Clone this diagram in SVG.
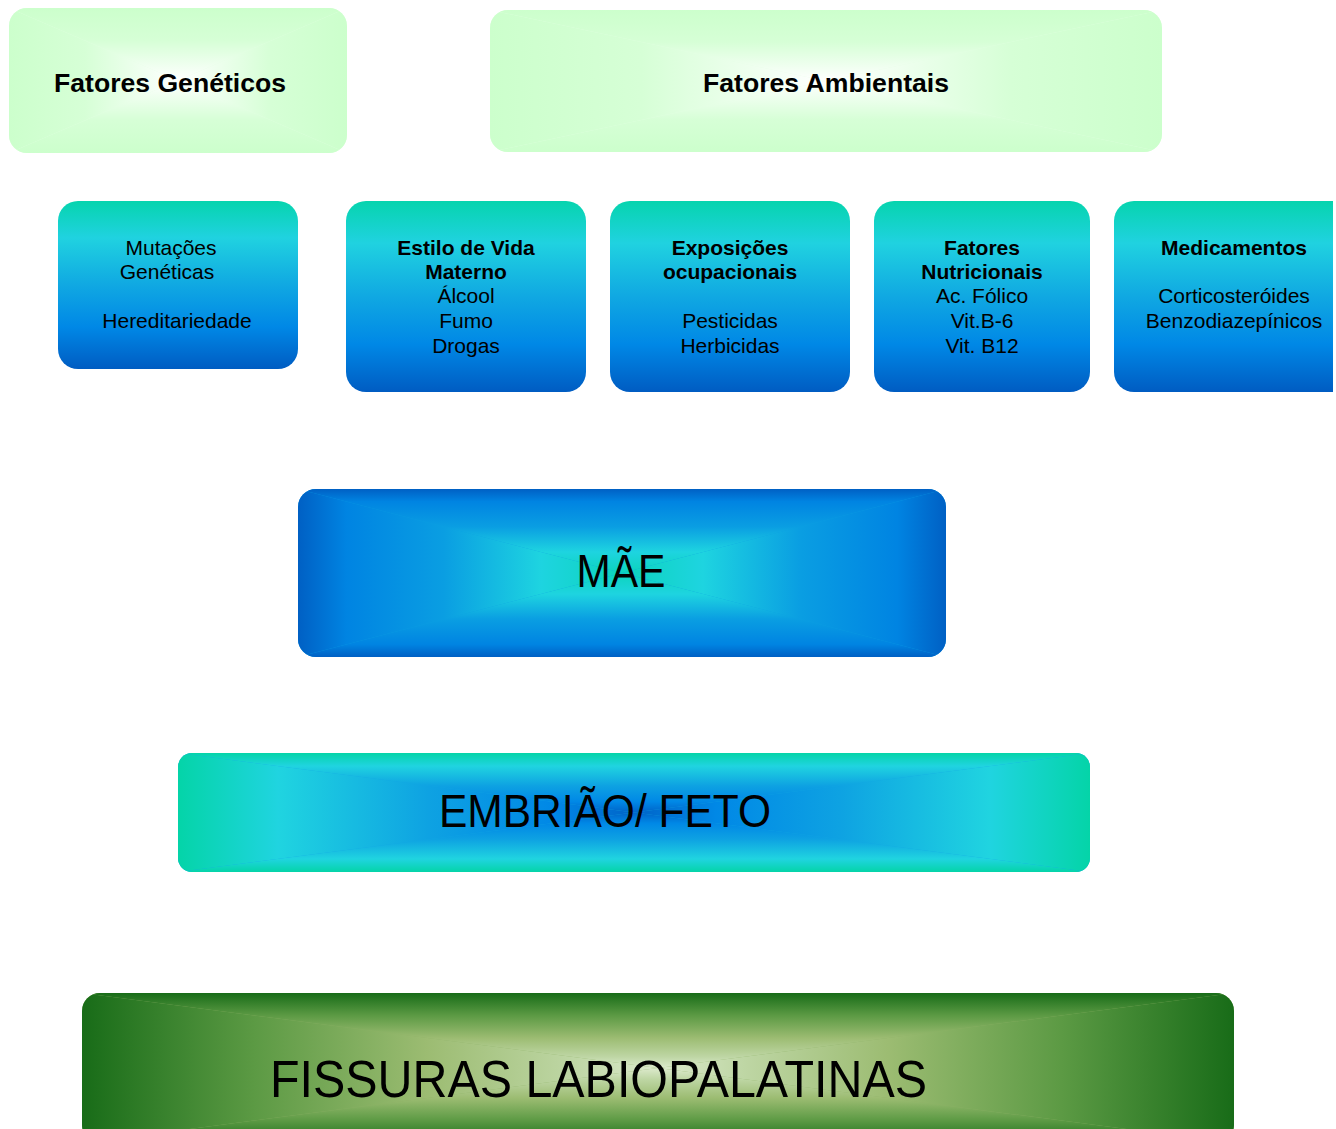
<svg xmlns="http://www.w3.org/2000/svg" width="1336" height="1129" viewBox="0 0 1336 1129">
<style>
.t{font-family:"Liberation Sans",Arial,sans-serif;fill:#000;text-anchor:middle}
.h{font-size:26px;font-weight:bold}
.s{font-size:21px}
.b{font-weight:bold}
.big{font-size:46px}
</style>
<defs>
<!-- light green rectangular gradient -->
<linearGradient id="gT" x1="0" y1="0" x2="0" y2="1"><stop offset="0" stop-color="#ccffcc"/><stop offset="0.45" stop-color="#d6ffd6"/><stop offset="1" stop-color="#ffffff"/></linearGradient>
<linearGradient id="gB" x1="0" y1="1" x2="0" y2="0"><stop offset="0" stop-color="#ccffcc"/><stop offset="0.45" stop-color="#d6ffd6"/><stop offset="1" stop-color="#ffffff"/></linearGradient>
<linearGradient id="gL" x1="0" y1="0" x2="1" y2="0"><stop offset="0" stop-color="#ccffcc"/><stop offset="0.45" stop-color="#d6ffd6"/><stop offset="1" stop-color="#ffffff"/></linearGradient>
<linearGradient id="gR" x1="1" y1="0" x2="0" y2="0"><stop offset="0" stop-color="#ccffcc"/><stop offset="0.45" stop-color="#d6ffd6"/><stop offset="1" stop-color="#ffffff"/></linearGradient>
<!-- MAE blue -->
<linearGradient id="mT" x1="0" y1="0" x2="0" y2="1"><stop offset="0" stop-color="#0060c4"/><stop offset="0.15" stop-color="#0084e2"/><stop offset="0.45" stop-color="#0a9ee2"/><stop offset="0.75" stop-color="#1ed4e0"/><stop offset="1" stop-color="#0cd4bc"/></linearGradient>
<linearGradient id="mB" x1="0" y1="1" x2="0" y2="0"><stop offset="0" stop-color="#0060c4"/><stop offset="0.15" stop-color="#0084e2"/><stop offset="0.45" stop-color="#0a9ee2"/><stop offset="0.75" stop-color="#1ed4e0"/><stop offset="1" stop-color="#0cd4bc"/></linearGradient>
<linearGradient id="mL" x1="0" y1="0" x2="1" y2="0"><stop offset="0" stop-color="#0060c4"/><stop offset="0.15" stop-color="#0084e2"/><stop offset="0.45" stop-color="#0a9ee2"/><stop offset="0.75" stop-color="#1ed4e0"/><stop offset="1" stop-color="#0cd4bc"/></linearGradient>
<linearGradient id="mR" x1="1" y1="0" x2="0" y2="0"><stop offset="0" stop-color="#0060c4"/><stop offset="0.15" stop-color="#0084e2"/><stop offset="0.45" stop-color="#0a9ee2"/><stop offset="0.75" stop-color="#1ed4e0"/><stop offset="1" stop-color="#0cd4bc"/></linearGradient>
<!-- EMBRIAO teal -> blue -->
<linearGradient id="eT" x1="0" y1="0" x2="0" y2="1"><stop offset="0" stop-color="#04d4a8"/><stop offset="0.22" stop-color="#20d4e0"/><stop offset="0.55" stop-color="#0ea2e2"/><stop offset="0.82" stop-color="#0088e6"/><stop offset="1" stop-color="#0064c8"/></linearGradient>
<linearGradient id="eB" x1="0" y1="1" x2="0" y2="0"><stop offset="0" stop-color="#04d4a8"/><stop offset="0.22" stop-color="#20d4e0"/><stop offset="0.55" stop-color="#0ea2e2"/><stop offset="0.82" stop-color="#0088e6"/><stop offset="1" stop-color="#0064c8"/></linearGradient>
<linearGradient id="eL" x1="0" y1="0" x2="1" y2="0"><stop offset="0" stop-color="#04d4a8"/><stop offset="0.22" stop-color="#20d4e0"/><stop offset="0.55" stop-color="#0ea2e2"/><stop offset="0.82" stop-color="#0088e6"/><stop offset="1" stop-color="#0064c8"/></linearGradient>
<linearGradient id="eR" x1="1" y1="0" x2="0" y2="0"><stop offset="0" stop-color="#04d4a8"/><stop offset="0.22" stop-color="#20d4e0"/><stop offset="0.55" stop-color="#0ea2e2"/><stop offset="0.82" stop-color="#0088e6"/><stop offset="1" stop-color="#0064c8"/></linearGradient>
<!-- FISSURAS green -->
<linearGradient id="fT" x1="0" y1="0" x2="0" y2="1"><stop offset="0" stop-color="#186c18"/><stop offset="0.3" stop-color="#5c9a44"/><stop offset="0.6" stop-color="#9cbc72"/><stop offset="0.85" stop-color="#bed6a4"/><stop offset="1" stop-color="#dceacc"/></linearGradient>
<linearGradient id="fB" x1="0" y1="1" x2="0" y2="0"><stop offset="0" stop-color="#186c18"/><stop offset="0.3" stop-color="#5c9a44"/><stop offset="0.6" stop-color="#9cbc72"/><stop offset="0.85" stop-color="#bed6a4"/><stop offset="1" stop-color="#dceacc"/></linearGradient>
<linearGradient id="fL" x1="0" y1="0" x2="1" y2="0"><stop offset="0" stop-color="#186c18"/><stop offset="0.3" stop-color="#5c9a44"/><stop offset="0.6" stop-color="#9cbc72"/><stop offset="0.85" stop-color="#bed6a4"/><stop offset="1" stop-color="#dceacc"/></linearGradient>
<linearGradient id="fR" x1="1" y1="0" x2="0" y2="0"><stop offset="0" stop-color="#186c18"/><stop offset="0.3" stop-color="#5c9a44"/><stop offset="0.6" stop-color="#9cbc72"/><stop offset="0.85" stop-color="#bed6a4"/><stop offset="1" stop-color="#dceacc"/></linearGradient>
<!-- small boxes vertical -->
<linearGradient id="sv" x1="0" y1="0" x2="0" y2="1"><stop offset="0" stop-color="#06d4ae"/><stop offset="0.22" stop-color="#20d2e0"/><stop offset="0.5" stop-color="#10a8e2"/><stop offset="0.75" stop-color="#0088e6"/><stop offset="1" stop-color="#005cc2"/></linearGradient>
<clipPath id="c1"><rect x="9" y="8" width="338" height="145" rx="18"/></clipPath>
<clipPath id="c2"><rect x="490" y="10" width="672" height="142" rx="18"/></clipPath>
<clipPath id="c3"><rect x="298" y="489" width="648" height="168" rx="18"/></clipPath>
<clipPath id="c4"><rect x="178" y="753" width="912" height="119" rx="14"/></clipPath>
<clipPath id="c5"><rect x="82" y="993" width="1152" height="150" rx="18"/></clipPath>
</defs>

<g id="fatores-geneticos">
<g clip-path="url(#c1)">
<rect x="9" y="8" width="338" height="145" fill="#e4ffe4"/>
<polygon points="9,8 347,8 178,80.5" fill="url(#gT)"/>
<polygon points="9,153 347,153 178,80.5" fill="url(#gB)"/>
<polygon points="9,8 9,153 178,80.5" fill="url(#gL)"/>
<polygon points="347,8 347,153 178,80.5" fill="url(#gR)"/>
</g>
<text class="t h" x="170" y="92" textLength="232" lengthAdjust="spacingAndGlyphs">Fatores Genéticos</text>
</g>

<g id="fatores-ambientais">
<g clip-path="url(#c2)">
<rect x="490" y="10" width="672" height="142" fill="#e4ffe4"/>
<polygon points="490,10 1162,10 826,81" fill="url(#gT)"/>
<polygon points="490,152 1162,152 826,81" fill="url(#gB)"/>
<polygon points="490,10 490,152 826,81" fill="url(#gL)"/>
<polygon points="1162,10 1162,152 826,81" fill="url(#gR)"/>
</g>
<text class="t h" x="826" y="92" textLength="246" lengthAdjust="spacingAndGlyphs">Fatores Ambientais</text>
</g>

<g id="mutacoes">
<rect x="58" y="201" width="240" height="168" rx="20" fill="url(#sv)"/>
<text class="t s" x="171" y="255">Mutações</text>
<text class="t s" x="167" y="279">Genéticas</text>
<text class="t s" x="177" y="328">Hereditariedade</text>
</g>

<g id="estilo-vida">
<rect x="346" y="201" width="240" height="191" rx="20" fill="url(#sv)"/>
<text class="t s b" x="466" y="255">Estilo de Vida</text>
<text class="t s b" x="466" y="279">Materno</text>
<text class="t s" x="466" y="303">Álcool</text>
<text class="t s" x="466" y="328">Fumo</text>
<text class="t s" x="466" y="353">Drogas</text>
</g>

<g id="exposicoes">
<rect x="610" y="201" width="240" height="191" rx="20" fill="url(#sv)"/>
<text class="t s b" x="730" y="255">Exposições</text>
<text class="t s b" x="730" y="279">ocupacionais</text>
<text class="t s" x="730" y="328">Pesticidas</text>
<text class="t s" x="730" y="353">Herbicidas</text>
</g>

<g id="nutricionais">
<rect x="874" y="201" width="216" height="191" rx="20" fill="url(#sv)"/>
<text class="t s b" x="982" y="255">Fatores</text>
<text class="t s b" x="982" y="279">Nutricionais</text>
<text class="t s" x="982" y="303">Ac. Fólico</text>
<text class="t s" x="982" y="328">Vit.B-6</text>
<text class="t s" x="982" y="353">Vit. B12</text>
</g>

<g id="medicamentos">
<path d="M1134,201 H1333 V392 H1134 A20,20 0 0 1 1114,372 V221 A20,20 0 0 1 1134,201 Z" fill="url(#sv)"/>
<text class="t s b" x="1234" y="255">Medicamentos</text>
<text class="t s" x="1234" y="303">Corticosteróides</text>
<text class="t s" x="1234" y="328">Benzodiazepínicos</text>
</g>

<g id="mae">
<g clip-path="url(#c3)">
<rect x="298" y="489" width="648" height="168" fill="#0a9ee2"/>
<polygon points="298,489 946,489 622,573" fill="url(#mT)"/>
<polygon points="298,657 946,657 622,573" fill="url(#mB)"/>
<polygon points="298,489 298,657 622,573" fill="url(#mL)"/>
<polygon points="946,489 946,657 622,573" fill="url(#mR)"/>
</g>
<text class="t big" x="621" y="587" textLength="89" lengthAdjust="spacingAndGlyphs">MÃE</text>
</g>

<g id="embriao-feto">
<g clip-path="url(#c4)">
<rect x="178" y="753" width="912" height="119" fill="#10a8e2"/>
<polygon points="178,753 1090,753 634,812.5" fill="url(#eT)"/>
<polygon points="178,872 1090,872 634,812.5" fill="url(#eB)"/>
<polygon points="178,753 178,872 634,812.5" fill="url(#eL)"/>
<polygon points="1090,753 1090,872 634,812.5" fill="url(#eR)"/>
</g>
<text class="t big" x="605" y="827" textLength="332" lengthAdjust="spacingAndGlyphs">EMBRIÃO/ FETO</text>
</g>

<g id="fissuras">
<g clip-path="url(#c5)">
<rect x="82" y="993" width="1152" height="150" fill="#8cb064"/>
<polygon points="82,993 1234,993 658,1068" fill="url(#fT)"/>
<polygon points="82,1143 1234,1143 658,1068" fill="url(#fB)"/>
<polygon points="82,993 82,1143 658,1068" fill="url(#fL)"/>
<polygon points="1234,993 1234,1143 658,1068" fill="url(#fR)"/>
</g>
<text class="t" style="font-size:52px" x="598.5" y="1097" textLength="657" lengthAdjust="spacingAndGlyphs">FISSURAS LABIOPALATINAS</text>
</g>

<g id="connectors"></g>
</svg>
